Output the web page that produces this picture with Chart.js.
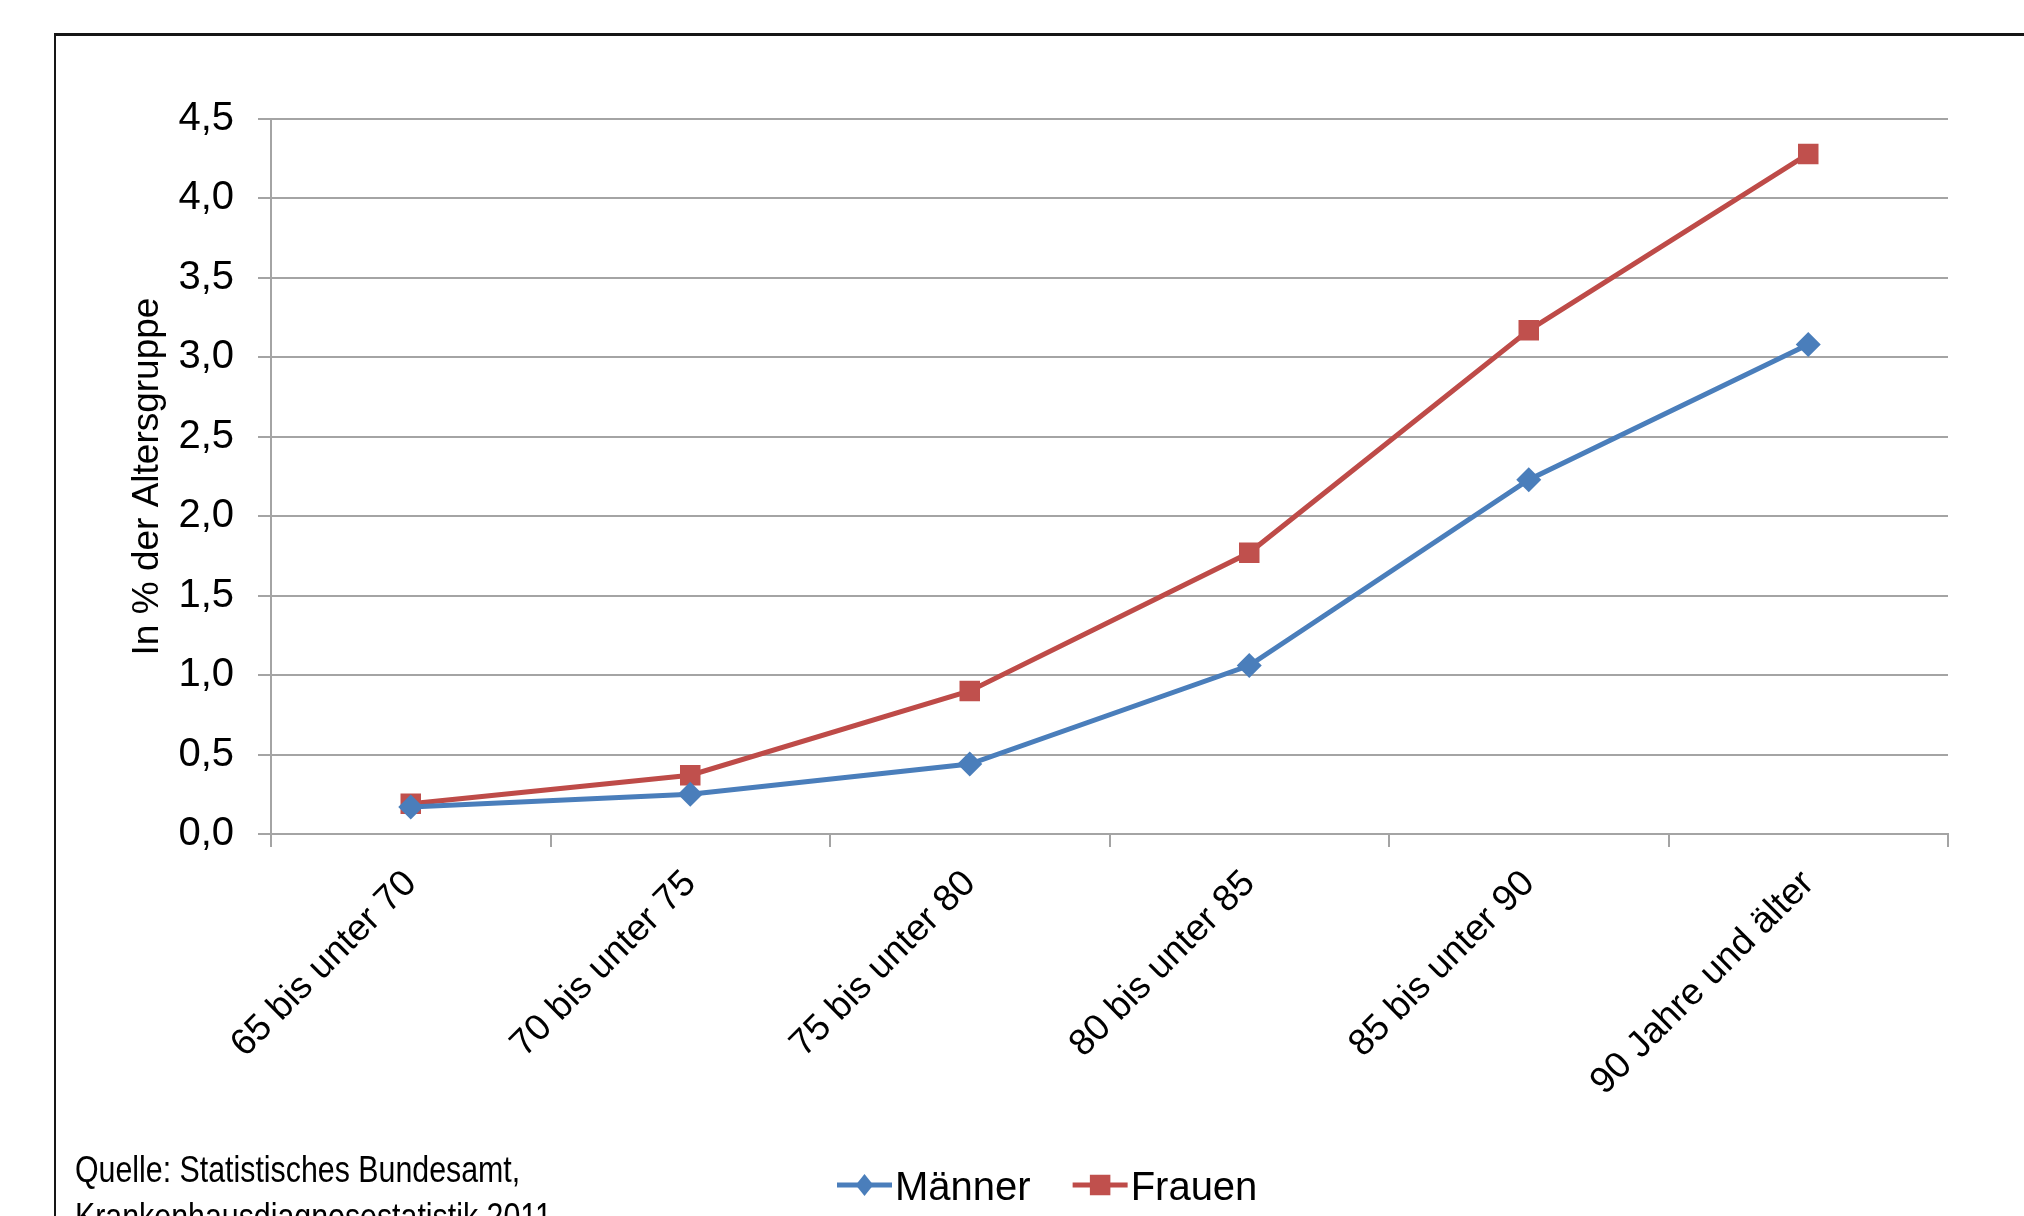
<!DOCTYPE html>
<html>
<head>
<meta charset="utf-8">
<script src="https://cdn.jsdelivr.net/npm/chart.js@4/dist/chart.umd.min.js"></script>
<style>
  html, body { margin: 0; padding: 0; background: #ffffff; }
  #wrap { position: relative; width: 2024px; height: 1216px; overflow: hidden; background: #ffffff; }
  #frame { position: absolute; left: 54px; top: 33px; width: 2100px; height: 1300px;
           border-top: 3px solid #161616; border-left: 2px solid #161616; box-sizing: border-box; }
  #chart { position: absolute; left: 0; top: 0; }
  #quelle { position: absolute; left: 75px; top: 1146px; font-family: "Liberation Sans", Arial, sans-serif;
            font-size: 37px; line-height: 47px; color: #000; white-space: nowrap;
            transform: scaleX(0.82); transform-origin: 0 0; }
</style>
</head>
<body>
<div id="wrap">
  <div id="frame"></div>
  <canvas id="chart" width="2024" height="1216"></canvas>
  <div id="quelle">Quelle: Statistisches Bundesamt,<br>Krankenhausdiagnosestatistik 2011</div>
</div>
<script>
// Altersgruppen (x-axis categories)
const categories = ['65 bis unter 70', '70 bis unter 75', '75 bis unter 80',
                    '80 bis unter 85', '85 bis unter 90', '90 Jahre und älter'];
// Anteil in % der Altersgruppe
const maenner = [0.17, 0.25, 0.44, 1.06, 2.23, 3.08];
const frauen  = [0.19, 0.37, 0.90, 1.77, 3.17, 4.28];
// y-axis range and steps
const yMin = 0;
const yMax = 4.5;
const yStep = 0.5;
const yTitle = 'In % der Altersgruppe';

const FONT = '"Liberation Sans", Arial, sans-serif';
const GRID = '#a4a4a4';

// Legend below the plot: a short line with its marker, then the series name
const lineLegend = {
  id: 'lineLegend',
  afterDraw(chart) {
    const ctx = chart.ctx;
    const lineLen = 55, gapText = 3, gapItem = 42;
    const cy = 1185, baseline = 1200;
    let x = 837;
    ctx.save();
    ctx.font = '40px ' + FONT;
    chart.data.datasets.forEach(ds => {
      ctx.strokeStyle = ds.borderColor;
      ctx.lineWidth = ds.borderWidth;
      ctx.beginPath();
      ctx.moveTo(x, cy);
      ctx.lineTo(x + lineLen, cy);
      ctx.stroke();
      const mx = x + lineLen / 2;
      ctx.fillStyle = ds.pointBackgroundColor;
      ctx.beginPath();
      if (ds.pointStyle === 'rectRot') {
        const r = 11;
        ctx.moveTo(mx - r * 0.8, cy);
        ctx.lineTo(mx, cy - r);
        ctx.lineTo(mx + r * 0.8, cy);
        ctx.lineTo(mx, cy + r);
        ctx.closePath();
      } else {
        const s = ds.pointRadius * Math.SQRT1_2;
        ctx.rect(mx - s, cy - s, 2 * s, 2 * s);
      }
      ctx.fill();
      ctx.fillStyle = '#000';
      ctx.textBaseline = 'alphabetic';
      ctx.textAlign = 'left';
      ctx.fillText(ds.label, x + lineLen + gapText, baseline);
      x += lineLen + gapText + ctx.measureText(ds.label).width + gapItem;
    });
    ctx.restore();
  }
};

new Chart(document.getElementById('chart'), {
  type: 'line',
  data: {
    labels: categories,
    datasets: [
      {
        label: 'Männer',
        data: maenner,
        borderColor: '#4A7EBB',
        backgroundColor: '#4A7EBB',
        pointBackgroundColor: '#4A7EBB',
        pointBorderColor: '#4A7EBB',
        pointBorderWidth: 0,
        borderWidth: 5,
        pointStyle: 'rectRot',
        pointRadius: 12.5,
        tension: 0
      },
      {
        label: 'Frauen',
        data: frauen,
        borderColor: '#BE4B48',
        backgroundColor: '#C0504D',
        pointBackgroundColor: '#C0504D',
        pointBorderColor: '#C0504D',
        pointBorderWidth: 0,
        borderWidth: 5,
        pointStyle: 'rect',
        pointRadius: 14.5,
        tension: 0
      }
    ]
  },
  options: {
    responsive: false,
    animation: false,
    devicePixelRatio: 1,
    layout: { padding: { left: 100, top: 119, right: 76, bottom: 0 } },
    plugins: {
      legend: { display: false },
      tooltip: { enabled: false },
      title: { display: false }
    },
    scales: {
      x: {
        type: 'category',
        offset: true,
        afterFit(scale) { scale.height = 382; },
        grid: {
          offset: true,
          drawOnChartArea: false,
          drawTicks: true,
          tickLength: 13,
          color: GRID,
          lineWidth: 2
        },
        border: { display: true, color: GRID, width: 2 },
        ticks: {
          autoSkip: false,
          minRotation: 45,
          maxRotation: 45,
          padding: 15,
          labelOffset: 0,
          color: '#000',
          font: { family: FONT, size: 37 }
        }
      },
      y: {
        min: yMin,
        max: yMax,
        afterFit(scale) { scale.width = 171; },
        grid: {
          color: GRID,
          lineWidth: 2,
          drawTicks: true,
          tickLength: 13
        },
        border: { display: true, color: GRID, width: 2 },
        ticks: {
          stepSize: yStep,
          padding: 24,
          color: '#000',
          font: { family: FONT, size: 40 },
          callback: v => v.toFixed(1).replace('.', ',')
        },
        title: {
          display: true,
          text: yTitle,
          color: '#000',
          font: { family: FONT, size: 37 },
          padding: { top: 26, bottom: 0 }
        }
      }
    }
  },
  plugins: [lineLegend]
});
</script>
</body>
</html>
